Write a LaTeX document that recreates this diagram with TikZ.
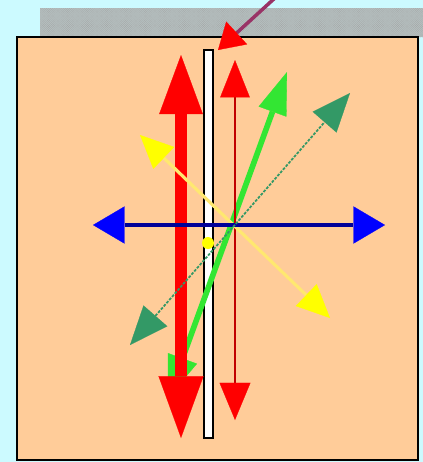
\documentclass[tikz,border=0pt]{standalone}
\usetikzlibrary{arrows.meta,patterns}
\definecolor{SkyBg}{HTML}{CCFAFF}
\definecolor{PlateFill}{HTML}{FFCC99}
\definecolor{BandGray}{HTML}{B4BEBE}
\definecolor{RayRed}{HTML}{FF0000}
\definecolor{RayDarkRed}{HTML}{C00000}
\definecolor{RayBlue}{HTML}{0000FF}
\definecolor{RayNavy}{HTML}{000099}
\definecolor{RayGreen}{HTML}{33E633}
\definecolor{RayTeal}{HTML}{339966}
\definecolor{RayYellow}{HTML}{FFFF00}
\definecolor{RayPale}{HTML}{FFE870}
\definecolor{RayPlum}{HTML}{993366}

\begin{document}
\begin{tikzpicture}[x=0.5mm,y=-0.5mm,
  wave/.style={line width=17pt, RayRed, {Triangle[length=84pt,width=62pt,line width=0.4pt]}-{Triangle[length=88pt,width=64pt,line width=0.4pt]}},
  waveside/.style={line width=2.5pt, RayDarkRed, {Triangle[length=53pt,width=42pt,color=RayRed,line width=0.4pt]}-{Triangle[length=53pt,width=44pt,color=RayRed,line width=0.4pt]}},
  axis/.style={line width=4.5pt, RayNavy, {Triangle[length=45pt,width=53pt,color=RayBlue,line width=0.4pt]}-{Triangle[length=45pt,width=53pt,color=RayBlue,line width=0.4pt]}},
  rayg/.style={line width=8pt, RayGreen, {Triangle[length=60pt,width=44pt,line width=0.4pt]}-{Triangle[length=60pt,width=42pt,line width=0.4pt]}},
  rayt/.style={line width=2.5pt, RayTeal, dash pattern=on 4pt off 2pt, {Triangle[length=55pt,width=45pt,line width=0.4pt]}-{Triangle[length=55pt,width=45pt,line width=0.4pt]}},
  rayy/.style={line width=4.5pt, RayPale, {Triangle[length=47pt,width=43pt,color=RayYellow,line width=0.4pt]}-{Triangle[length=47pt,width=43pt,color=RayYellow,line width=0.4pt]}},
  incoming/.style={line width=5pt, RayPlum, -{Triangle[length=36pt,width=44pt,color=RayRed,line width=0.4pt]}},
]
\useasboundingbox (0,0) rectangle (423,462);
\fill[SkyBg] (0,0) rectangle (423,462);
\fill[BandGray] (40,8) rectangle (423,37);
\fill[pattern=crosshatch dots, pattern color=gray!75] (40,8) rectangle (423,37);
\draw[line width=1.5pt, fill=PlateFill] (17,37) rectangle (418,460);
\draw[line width=1.5pt, fill=white] (204,50) rectangle (213,438);

\coordinate (O) at (234,225);
\coordinate (wTop) at (181,55);
\coordinate (wBot) at (181,438);
\coordinate (sTop) at (235,60);
\coordinate (sBot) at (235,420);
\coordinate (bL) at (93,225);
\coordinate (bR) at (385,225);
\coordinate (gTop) at (287,72);
\coordinate (gBot) at (168,398);
\coordinate (tTop) at (350,93);
\coordinate (tBot) at (130,345);
\coordinate (yTop) at (140,135);
\coordinate (yBot) at (330,318);
\coordinate (yDot) at (208,243);
\coordinate (src) at (276,-3);
\coordinate (hit) at (218,50);

\draw[rayg] (gBot) -- (gTop);
\draw[wave] (wTop) -- (wBot);
\draw[waveside] (sTop) -- (sBot);
\draw[rayy] (yTop) -- (yBot);
\fill[RayYellow] (yDot) circle (6);
\draw[axis] (bL) -- (bR);
\draw[rayt] (tBot) -- (tTop);
\draw[incoming] (src) -- (hit);
\end{tikzpicture}
\end{document}
